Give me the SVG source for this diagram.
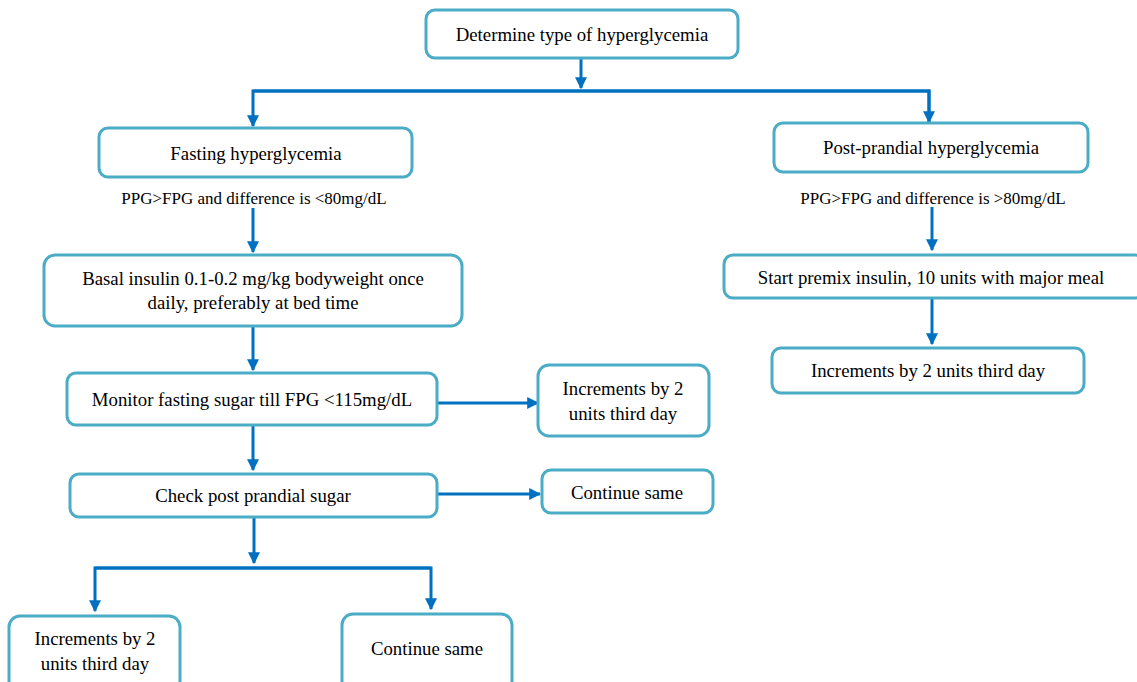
<svg xmlns="http://www.w3.org/2000/svg" width="1137" height="682" viewBox="0 0 1137 682">
<style>
.box{fill:#ffffff;stroke:#4bacc6;stroke-width:3}
.t{font-family:'Liberation Serif','Times New Roman','DejaVu Serif',serif;font-size:18.8px;fill:#000;text-anchor:middle;dominant-baseline:central}
.s{font-family:'Liberation Serif','Times New Roman','DejaVu Serif',serif;font-size:17px;fill:#000;text-anchor:middle;dominant-baseline:central}
.c{fill:none;stroke:#0070c0;stroke-width:3}
</style>
<defs>
<marker id="ah" viewBox="0 0 10 10" refX="9" refY="5" markerWidth="4" markerHeight="4" orient="auto" markerUnits="strokeWidth">
<path d="M0,0 L10,5 L0,10 z" fill="#0070c0"/>
</marker>
</defs>
<rect width="1137" height="682" fill="#ffffff"/>
<g id="connectors">
<path class="c" d="M581,58 V88" marker-end="url(#ah)"/>
<path class="c" d="M929,122 V91 H253 V126" marker-end="url(#ah)"/>
<path class="c" d="M253,91 H929 V122" marker-end="url(#ah)"/>
<path class="c" d="M253,208 V252" marker-end="url(#ah)"/>
<path class="c" d="M253,326 V370" marker-end="url(#ah)"/>
<path class="c" d="M437,403 H538" marker-end="url(#ah)"/>
<path class="c" d="M253,425 V470" marker-end="url(#ah)"/>
<path class="c" d="M437,494 H540" marker-end="url(#ah)"/>
<path class="c" d="M254,517 V563" marker-end="url(#ah)"/>
<path class="c" d="M431,568 H95 V611" marker-end="url(#ah)"/>
<path class="c" d="M95,568 H431 V609" marker-end="url(#ah)"/>
<path class="c" d="M932,207 V250" marker-end="url(#ah)"/>
<path class="c" d="M932,298 V344" marker-end="url(#ah)"/>
</g>
<g id="n-determine"><rect class="box" x="426" y="10" width="312" height="48" rx="9"/><text class="t" x="582" y="34">Determine type of hyperglycemia</text></g>
<g id="n-fasting"><rect class="box" x="99" y="128" width="313" height="49" rx="9"/><text class="t" x="256" y="153">Fasting hyperglycemia</text></g>
<g id="l-fasting"><text class="s" x="254" y="198">PPG&gt;FPG and difference is &lt;80mg/dL</text></g>
<g id="n-basal"><rect class="box" x="44" y="255" width="418" height="71" rx="11"/><text class="t" x="253" y="278">Basal insulin 0.1-0.2 mg/kg bodyweight once</text><text class="t" x="253" y="302">daily, preferably at bed time</text></g>
<g id="n-monitor"><rect class="box" x="67" y="373" width="370" height="52" rx="9"/><text class="t" x="252" y="399">Monitor fasting sugar till FPG &lt;115mg/dL</text></g>
<g id="n-inc1"><rect class="box" x="538" y="365" width="171" height="71" rx="11"/><text class="t" x="623" y="388">Increments by 2</text><text class="t" x="623" y="413">units third day</text></g>
<g id="n-check"><rect class="box" x="70" y="474" width="367" height="43" rx="9"/><text class="t" x="253" y="495">Check post prandial sugar</text></g>
<g id="n-cont1"><rect class="box" x="542" y="470" width="171" height="43" rx="9"/><text class="t" x="627" y="492">Continue same</text></g>
<g id="n-inc2"><rect class="box" x="9" y="616" width="171" height="76" rx="11"/><text class="t" x="95" y="638">Increments by 2</text><text class="t" x="95" y="663">units third day</text></g>
<g id="n-cont2"><rect class="box" x="342" y="614" width="170" height="78" rx="11"/><text class="t" x="427" y="648">Continue same</text></g>
<g id="n-post"><rect class="box" x="774" y="123" width="314" height="49" rx="9"/><text class="t" x="931" y="147">Post-prandial hyperglycemia</text></g>
<g id="l-post"><text class="s" x="933" y="198">PPG&gt;FPG and difference is &gt;80mg/dL</text></g>
<g id="n-premix"><rect class="box" x="724" y="255" width="420" height="43" rx="9"/><text class="t" x="931" y="277">Start premix insulin, 10 units with major meal</text></g>
<g id="n-inc3"><rect class="box" x="772" y="348" width="312" height="45" rx="9"/><text class="t" x="928" y="370">Increments by 2 units third day</text></g>
</svg>
